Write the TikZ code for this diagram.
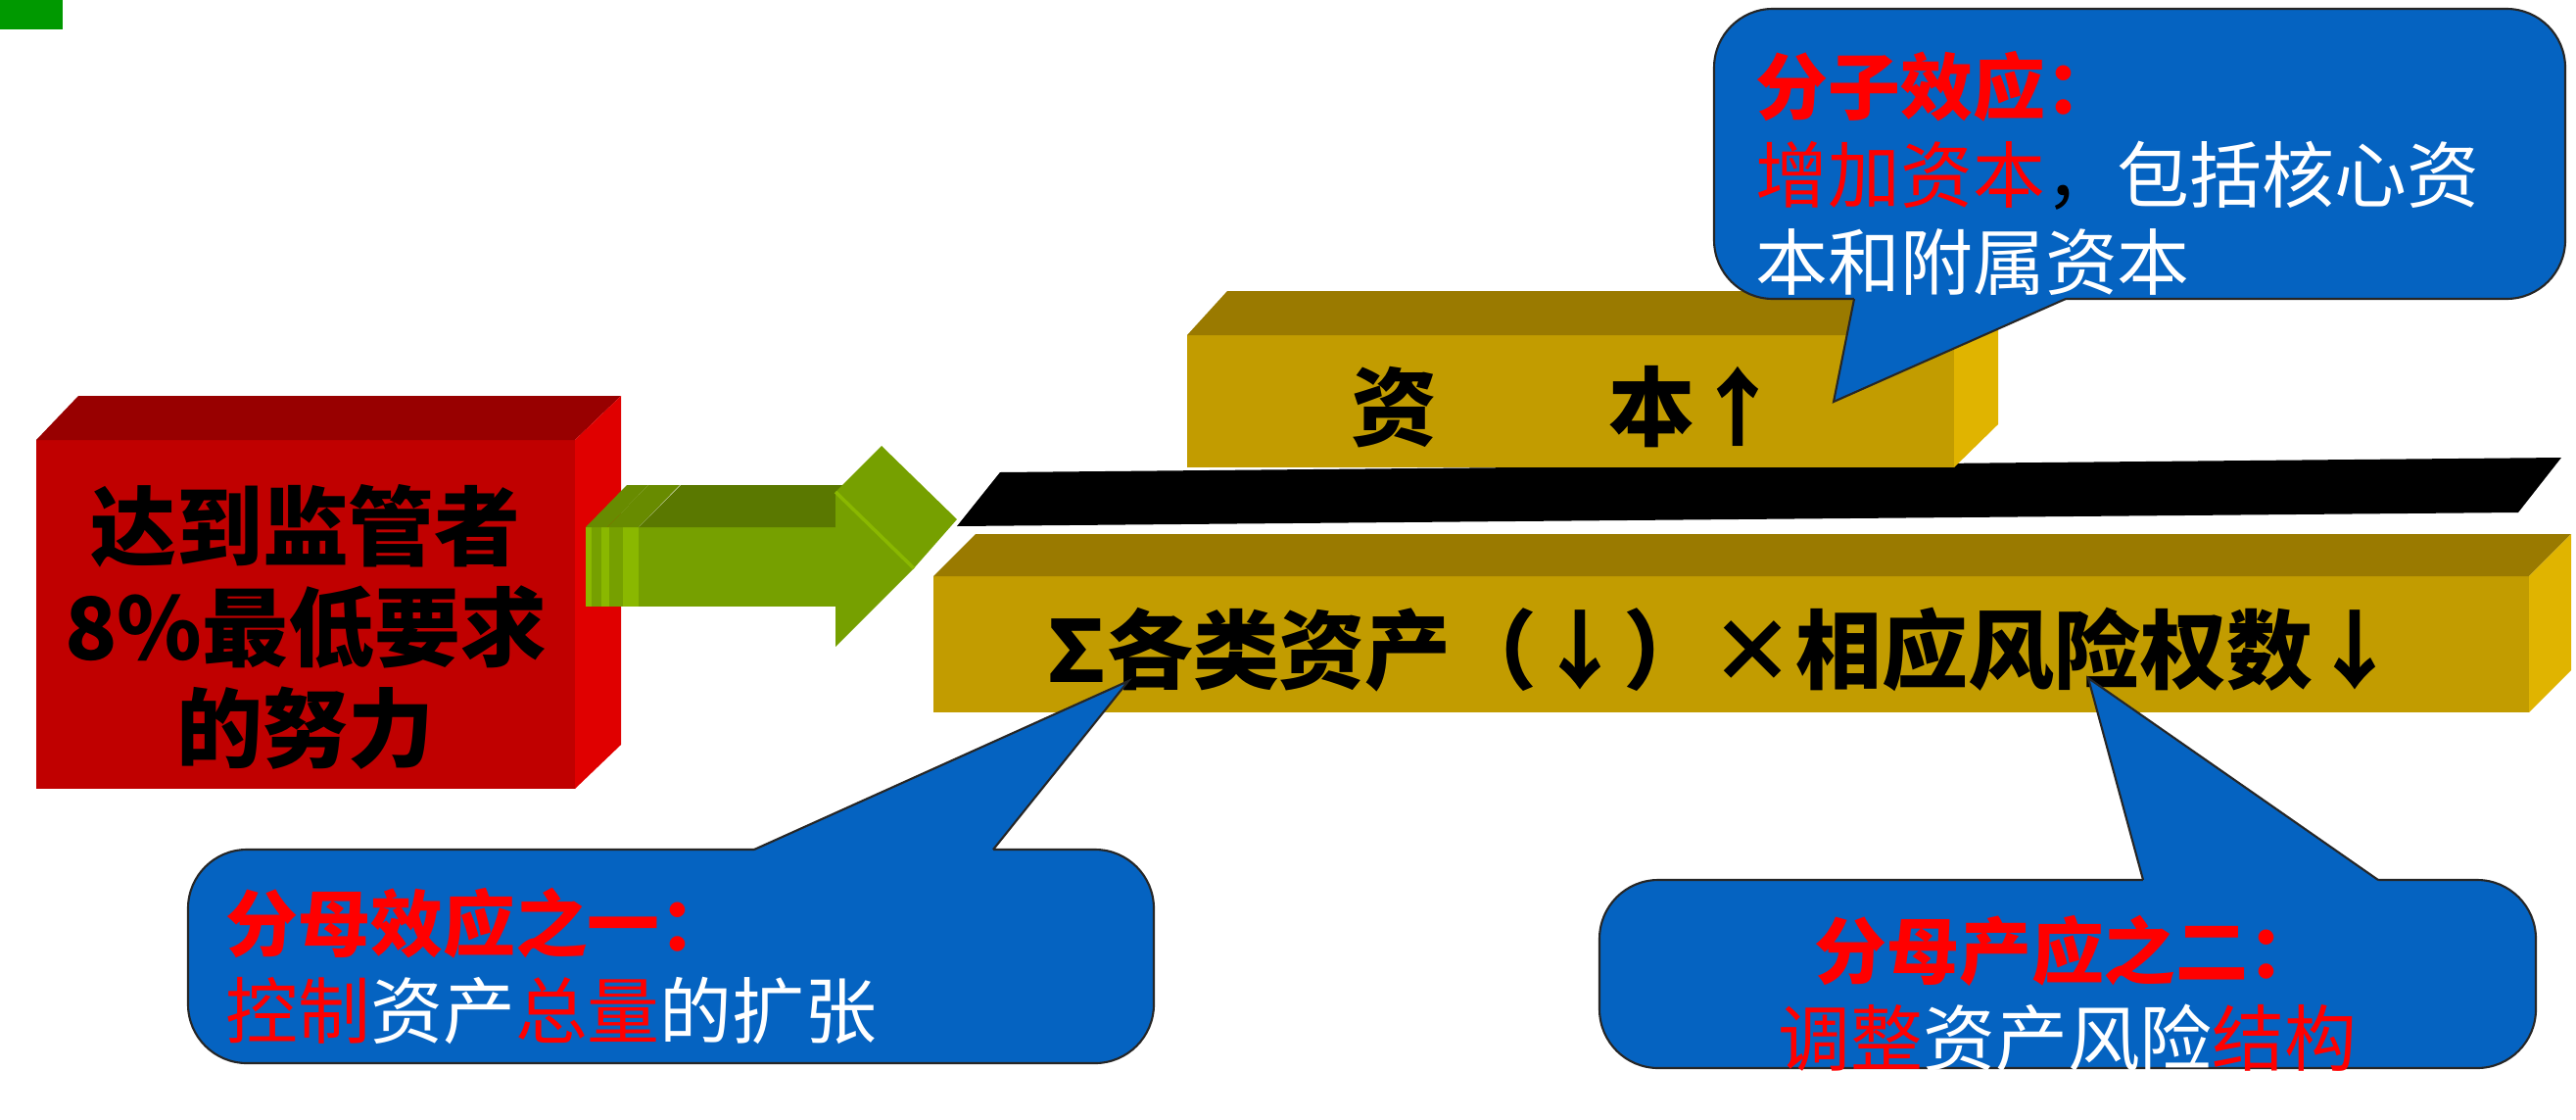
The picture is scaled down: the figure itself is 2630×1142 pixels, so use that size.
\documentclass[tikz,border=0pt]{standalone}
\usepackage{fontspec}
\setmainfont{Noto Sans CJK SC}
\definecolor{cornergreen}{HTML}{009900}
\definecolor{boxred}{HTML}{C00000}
\definecolor{boxredtop}{HTML}{980000}
\definecolor{boxredside}{HTML}{E00000}
\definecolor{gold}{HTML}{C29C00}
\definecolor{goldtop}{HTML}{9A7A00}
\definecolor{goldside}{HTML}{E0B400}
\definecolor{arrowgreen}{HTML}{76A000}
\definecolor{arrowtop}{HTML}{5A7800}
\definecolor{arrowlight}{HTML}{8AB800}
\definecolor{bubbleblue}{HTML}{0563C1}
\begin{document}
\begin{tikzpicture}[x=0.01cm,y=-0.01cm,
  bubble/.style={fill=bubbleblue,draw=black!85,line width=0.6pt,rounded corners=0.6cm},
  tailline/.style={draw=black!85,line width=0.6pt},
  boxtext/.style={inner sep=0pt,align=center,font=\bfseries\fontsize{25}{29.3}\selectfont},
  goldtext/.style={inner sep=0pt,font=\bfseries\fontsize{25}{30}\selectfont},
  bubbletext/.style={inner sep=0pt,text=white,font=\fontsize{21}{25.5}\selectfont}]
\useasboundingbox (0,0) rectangle (2630,1142);
\fill[cornergreen] (0,0) rectangle (64,30);
\fill[boxred] (37,449) rectangle (587,805);
\fill[boxredtop] (37,449) -- (80,404) -- (634,404) -- (587,449) -- cycle;
\fill[boxredside] (587,449) -- (634,404) -- (634,760) -- (587,805) -- cycle;
\node[boxtext] (goal) at (312,640) {达到监管者\\8\%最低要求\\的努力};
\fill[arrowlight] (598,538) rectangle (620,619);
\fill[arrowgreen] (604,538) rectangle (614,619);
\fill[arrowtop!70!arrowlight] (598,538) -- (640,495) -- (662,495) -- (620,538) -- cycle;
\fill[arrowlight] (620,538) rectangle (652,619);
\fill[arrowgreen] (622,538) rectangle (636,619);
\fill[arrowtop!70!arrowlight] (620,538) -- (662,495) -- (694,495) -- (652,538) -- cycle;
\fill[arrowgreen] (652,538) rectangle (853,619);
\fill[arrowtop] (652,538) -- (695,495) -- (896,495) -- (853,538) -- cycle;
\fill[arrowgreen] (853,502) -- (933,580) -- (853,660) -- cycle;
\fill[arrowgreen] (853,502) -- (900,455) -- (977,530) -- (933,580) -- cycle;
\draw[arrowlight,line width=1pt] (853,502) -- (933,580);
\fill[black] (977,537) -- (1021,482) -- (2615,467) -- (2571,523) -- cycle;
\fill[gold] (1212,342) rectangle (1995,477);
\fill[goldtop] (1212,342) -- (1253,297) -- (2040,297) -- (1995,342) -- cycle;
\fill[goldside] (1995,342) -- (2040,297) -- (2040,433) -- (1995,477) -- cycle;
\node[goldtext] (capital) at (1599,415) {资　　本↑};
\fill[gold] (953,588) rectangle (2582,727);
\fill[goldtop] (953,588) -- (996,545) -- (2625,545) -- (2582,588) -- cycle;
\fill[goldside] (2582,588) -- (2625,545) -- (2625,684) -- (2582,727) -- cycle;
\node[goldtext] (assets) at (1752,663) {∑\kern-0.15em 各类资产（↓）×相应风险权数↓};
\filldraw[bubble] (1750,9) rectangle (2619,305);
\fill[bubbleblue] (1893,300) -- (1893,305) -- (1872,410) -- (2109,305) -- (2109,300) -- cycle;
\draw[tailline] (1893,305) -- (1872,410) -- (2109,305);
\node[bubbletext,anchor=west,align=left] (numtext) at (1792,177) {\textcolor{red}{\bfseries 分子效应：}\\\textcolor{red}{增加资本}{\color{black}，}包括核心资\\本和附属资本};
\filldraw[bubble] (192,867) rectangle (1178,1085);
\fill[bubbleblue] (770,872) -- (770,867) -- (1152,695) -- (1014,867) -- (1014,872) -- cycle;
\draw[tailline] (770,867) -- (1152,695) -- (1014,867);
\node[bubbletext,anchor=west,align=left] (dentext) at (230,986) {\textcolor{red}{\bfseries 分母效应之一：}\\\textcolor{red}{控制}资产\textcolor{red}{总量}的扩张};
\filldraw[bubble] (1633,898) rectangle (2589,1090);
\fill[bubbleblue] (2188,903) -- (2188,898) -- (2132,692) -- (2428,898) -- (2428,903) -- cycle;
\draw[tailline] (2188,898) -- (2132,692) -- (2428,898);
\node[bubbletext,align=center] (structext) at (2111,1014) {\textcolor{red}{\bfseries 分母产应之二：}\\\textcolor{red}{调整}资产风险\textcolor{red}{结构}};
\end{tikzpicture}
\end{document}
